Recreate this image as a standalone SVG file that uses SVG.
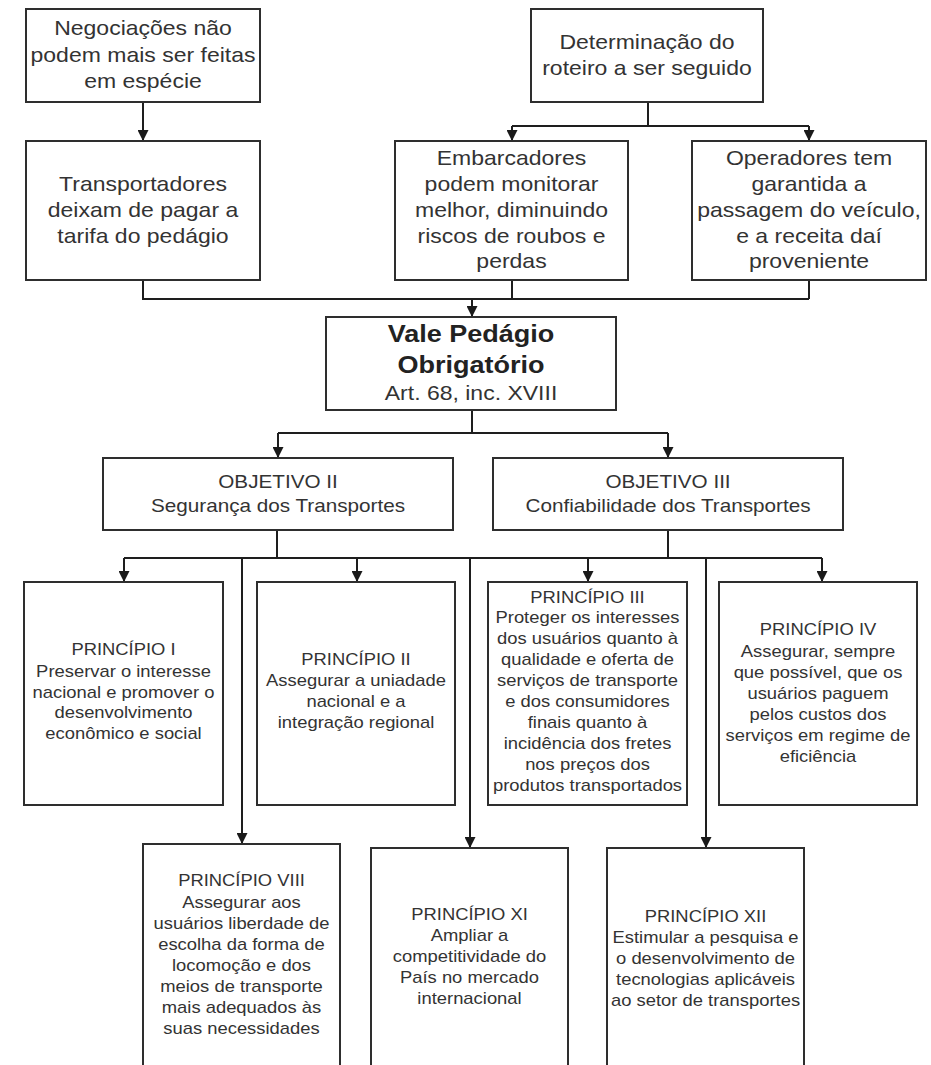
<svg xmlns="http://www.w3.org/2000/svg" width="931" height="1065" viewBox="0 0 931 1065">
<defs>
<marker id="ah" markerUnits="userSpaceOnUse" markerWidth="11" markerHeight="11" viewBox="0 0 10 10" refX="10" refY="5" orient="auto">
<path d="M0,0 L10,5 L0,10 z" fill="#1a1a1a"/>
</marker>
<style>
.box{fill:#fff;stroke:#2e2e2e;stroke-width:2}
.ln{fill:none;stroke:#1e1e1e;stroke-width:2}
.arr{fill:none;stroke:#1e1e1e;stroke-width:2;marker-end:url(#ah)}
text{font-family:"Liberation Sans",Arial,sans-serif;fill:#333;text-anchor:middle}
.t20{font-size:20px}
.t18{font-size:18px}
.t16{font-size:16px}
.tb{font-size:23.5px;font-weight:bold;fill:#222}
</style>
</defs>
<rect width="931" height="1065" fill="#fff"/>

<g id="connectors">
<path class="arr" d="M143,102 V141"/>
<path class="ln" d="M648,102 V126 M512,126 H809"/>
<path class="arr" d="M512,126 V141"/>
<path class="arr" d="M809,126 V141"/>
<path class="ln" d="M143,280 V299 H809 M512,280 V299 M809,280 V299"/>
<path class="arr" d="M472,299 V317"/>
<path class="ln" d="M472,410 V433 M278,433 H668"/>
<path class="arr" d="M278,433 V458"/>
<path class="arr" d="M668,433 V458"/>
<path class="ln" d="M277,530 V558 M668,530 V558 M124,558 H822"/>
<path class="arr" d="M124,558 V582"/>
<path class="arr" d="M357,558 V582"/>
<path class="arr" d="M588,558 V582"/>
<path class="arr" d="M822,558 V582"/>
<path class="arr" d="M242,558 V844"/>
<path class="arr" d="M470,558 V848"/>
<path class="arr" d="M706,558 V848"/>
</g>

<g id="negociacoes">
<rect class="box" x="26" y="9" width="234" height="93"/>
<text class="t20" transform="translate(143,0) scale(1.15,1)"><tspan x="0" y="35">Negociações não</tspan><tspan x="0" y="62">podem mais ser feitas</tspan><tspan x="0" y="88">em espécie</tspan></text>
</g>

<g id="determinacao">
<rect class="box" x="531" y="9" width="232" height="93"/>
<text class="t20" transform="translate(647,0) scale(1.15,1)"><tspan x="0" y="49">Determinação do</tspan><tspan x="0" y="75">roteiro a ser seguido</tspan></text>
</g>

<g id="transportadores">
<rect class="box" x="26" y="141" width="234" height="139"/>
<text class="t20" transform="translate(143,0) scale(1.15,1)"><tspan x="0" y="191">Transportadores</tspan><tspan x="0" y="217">deixam de pagar a</tspan><tspan x="0" y="243">tarifa do pedágio</tspan></text>
</g>

<g id="embarcadores">
<rect class="box" x="395" y="141" width="233" height="139"/>
<text class="t20" transform="translate(511.5,0) scale(1.15,1)"><tspan x="0" y="165">Embarcadores</tspan><tspan x="0" y="191">podem monitorar</tspan><tspan x="0" y="217">melhor, diminuindo</tspan><tspan x="0" y="243">riscos de roubos e</tspan><tspan x="0" y="268">perdas</tspan></text>
</g>

<g id="operadores">
<rect class="box" x="692" y="141" width="234" height="139"/>
<text class="t20" transform="translate(809,0) scale(1.15,1)"><tspan x="0" y="165">Operadores tem</tspan><tspan x="0" y="191">garantida a</tspan><tspan x="0" y="217">passagem do veículo,</tspan><tspan x="0" y="243">e a receita daí</tspan><tspan x="0" y="268">proveniente</tspan></text>
</g>

<g id="vale">
<rect class="box" x="326" y="317" width="290" height="93"/>
<text class="tb" transform="translate(471,0) scale(1.15,1)"><tspan x="0" y="342">Vale Pedágio</tspan><tspan x="0" y="373">Obrigatório</tspan></text>
<text class="t20" transform="translate(471,0) scale(1.15,1)"><tspan x="0" y="400">Art. 68, inc. XVIII</tspan></text>
</g>

<g id="objetivo2">
<rect class="box" x="103" y="458" width="350" height="72"/>
<text class="t18" transform="translate(278,0) scale(1.15,1)"><tspan x="0" y="488">OBJETIVO II</tspan><tspan x="0" y="512">Segurança dos Transportes</tspan></text>
</g>

<g id="objetivo3">
<rect class="box" x="493" y="458" width="350" height="72"/>
<text class="t18" transform="translate(668,0) scale(1.15,1)"><tspan x="0" y="488">OBJETIVO III</tspan><tspan x="0" y="512">Confiabilidade dos Transportes</tspan></text>
</g>

<g id="principio1">
<rect class="box" x="24" y="582" width="199" height="223"/>
<text class="t16" transform="translate(123.5,0) scale(1.15,1)"><tspan x="0" y="655">PRINCÍPIO I</tspan><tspan x="0" y="677">Preservar o interesse</tspan><tspan x="0" y="698">nacional e promover o</tspan><tspan x="0" y="718">desenvolvimento</tspan><tspan x="0" y="739">econômico e social</tspan></text>
</g>

<g id="principio2">
<rect class="box" x="257" y="582" width="198" height="223"/>
<text class="t16" transform="translate(356,0) scale(1.15,1)"><tspan x="0" y="665">PRINCÍPIO II</tspan><tspan x="0" y="686">Assegurar a uniadade</tspan><tspan x="0" y="707">nacional e a</tspan><tspan x="0" y="728">integração regional</tspan></text>
</g>

<g id="principio3">
<rect class="box" x="488" y="582" width="199" height="223"/>
<text class="t16" transform="translate(587.5,0) scale(1.15,1)"><tspan x="0" y="603">PRINCÍPIO III</tspan><tspan x="0" y="623">Proteger os interesses</tspan><tspan x="0" y="644">dos usuários quanto à</tspan><tspan x="0" y="665">qualidade e oferta de</tspan><tspan x="0" y="686">serviços de transporte</tspan><tspan x="0" y="707">e dos consumidores</tspan><tspan x="0" y="728">finais quanto à</tspan><tspan x="0" y="749">incidência dos fretes</tspan><tspan x="0" y="770">nos preços dos</tspan><tspan x="0" y="791">produtos transportados</tspan></text>
</g>

<g id="principio4">
<rect class="box" x="719" y="582" width="198" height="223"/>
<text class="t16" transform="translate(818,0) scale(1.15,1)"><tspan x="0" y="635">PRINCÍPIO IV</tspan><tspan x="0" y="657">Assegurar, sempre</tspan><tspan x="0" y="678">que possível, que os</tspan><tspan x="0" y="699">usuários paguem</tspan><tspan x="0" y="720">pelos custos dos</tspan><tspan x="0" y="741">serviços em regime de</tspan><tspan x="0" y="762">eficiência</tspan></text>
</g>

<g id="principio8">
<rect class="box" x="143" y="844" width="197" height="240"/>
<text class="t16" transform="translate(241.5,0) scale(1.15,1)"><tspan x="0" y="886">PRINCÍPIO VIII</tspan><tspan x="0" y="908">Assegurar aos</tspan><tspan x="0" y="929">usuários liberdade de</tspan><tspan x="0" y="950">escolha da forma de</tspan><tspan x="0" y="971">locomoção e dos</tspan><tspan x="0" y="992">meios de transporte</tspan><tspan x="0" y="1013">mais adequados às</tspan><tspan x="0" y="1034">suas necessidades</tspan></text>
</g>

<g id="principio11">
<rect class="box" x="371" y="848" width="197" height="240"/>
<text class="t16" transform="translate(469.5,0) scale(1.15,1)"><tspan x="0" y="920">PRINCÍPIO XI</tspan><tspan x="0" y="941">Ampliar a</tspan><tspan x="0" y="962">competitividade do</tspan><tspan x="0" y="983">País no mercado</tspan><tspan x="0" y="1004">internacional</tspan></text>
</g>

<g id="principio12">
<rect class="box" x="607" y="848" width="197" height="240"/>
<text class="t16" transform="translate(705.5,0) scale(1.15,1)"><tspan x="0" y="922">PRINCÍPIO XII</tspan><tspan x="0" y="943">Estimular a pesquisa e</tspan><tspan x="0" y="964">o desenvolvimento de</tspan><tspan x="0" y="985">tecnologias aplicáveis</tspan><tspan x="0" y="1006">ao setor de transportes</tspan></text>
</g>
</svg>
